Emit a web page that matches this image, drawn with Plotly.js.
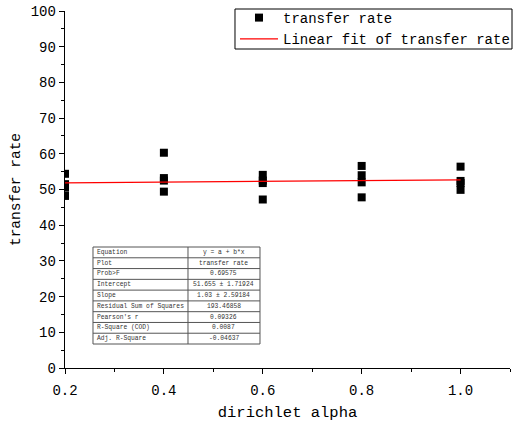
<!DOCTYPE html>
<html>
<head>
<meta charset="utf-8">
<script src="https://cdn.plot.ly/plotly-3.0.1.min.js"></script>
<style>html,body{margin:0;padding:0;background:#fff;}#chart{width:513px;height:425px;}</style>
</head>
<body>
<div id="chart"></div>
<script>
// Data
const alphaX = [0.2,0.2,0.2,0.2, 0.4,0.4,0.4,0.4, 0.6,0.6,0.6,0.6, 0.8,0.8,0.8,0.8, 1.0,1.0,1.0,1.0];
const transferRate = [54.4,51.5,50.5,48.2, 60.3,53.2,52.5,49.4, 54.1,52.5,51.8,47.2, 56.6,54.0,52.0,47.8, 56.4,52.4,51.8,49.9];
const fitIntercept = 51.655;
const fitSlope = 1.03;
const fitX = [0.2, 1.0];
const tableLabels = ["Equation","Plot","Prob>F","Intercept","Slope","Residual Sum of Squares","Pearson's r","R-Square (COD)","Adj. R-Square"];
const tableValues = ["y = a + b*x","transfer rate","0.69575","51.655 \u00b1 1.71924","1.03 \u00b1 2.59184","193.46858","0.09326","0.0087","-0.04637"];
const xTickVals = [0.2,0.4,0.6,0.8,1.0];
const xTickText = ["0.2","0.4","0.6","0.8","1.0"];

const fitY = fitX.map(x => fitIntercept + fitSlope * x);
const mono = "Liberation Mono, DejaVu Sans Mono, monospace";

// inset table layout (paper coordinates)
const tX0 = 0.0629, tXm = 0.2764, tX1 = 0.4382, tTop = 0.3389, tBot = 0.0672;
const rowH = (tTop - tBot) / tableLabels.length;
const tLine = {color: '#555', width: 1};
const shapes = [
  {type: 'rect', xref: 'paper', yref: 'paper', x0: tX0, x1: tX1, y0: tBot, y1: tTop, line: tLine, fillcolor: '#fff', layer: 'above'},
  {type: 'line', xref: 'paper', yref: 'paper', x0: tXm, x1: tXm, y0: tBot, y1: tTop, line: tLine, layer: 'above'},
  // legend frame
  {type: 'rect', xref: 'paper', yref: 'paper', x0: 0.382, x1: 1.0045, y0: 1 - (49 - 11) / 357, y1: 1 + 2 / 357, line: {color: '#000', width: 1}, layer: 'above'}
];
const annotations = [];
tableLabels.forEach((lab, i) => {
  const yc = tTop - rowH * (i + 0.5);
  if (i > 0) {
    shapes.push({type: 'line', xref: 'paper', yref: 'paper', x0: tX0, x1: tX1, y0: tTop - rowH * i, y1: tTop - rowH * i, line: tLine, layer: 'above'});
  }
  annotations.push({xref: 'paper', yref: 'paper', x: tX0 + 0.004, y: yc, xanchor: 'left', yanchor: 'middle', text: lab, showarrow: false, font: {family: mono, size: 6.3, color: '#333'}});
  annotations.push({xref: 'paper', yref: 'paper', x: (tXm + tX1) / 2, y: yc, xanchor: 'center', yanchor: 'middle', text: tableValues[i], showarrow: false, font: {family: mono, size: 6.3, color: '#333'}});
});

const traces = [
  {
    type: 'scatter', mode: 'markers', name: 'transfer rate',
    x: alphaX, y: transferRate,
    marker: {symbol: 'square', size: 8, color: '#000'}
  },
  {
    type: 'scatter', mode: 'lines', name: 'Linear fit of transfer rate',
    x: fitX, y: fitY,
    line: {color: '#ff0000', width: 1.2}
  }
];

const layout = {
  width: 513, height: 425,
  margin: {l: 65, r: 3, t: 11, b: 57, autoexpand: false},
  paper_bgcolor: '#fff', plot_bgcolor: '#fff',
  font: {family: mono, color: '#000'},
  showlegend: true,
  legend: {
    x: 0.382, xanchor: 'left', y: 1 + 9 / 357, yanchor: 'top',
    borderwidth: 0, bgcolor: 'rgba(0,0,0,0)',
    font: {family: mono, size: 14, color: '#000'},
    itemwidth: 38
  },
  shapes: shapes,
  annotations: annotations,
  xaxis: {
    range: [0.2, 1.1],
    tickmode: 'array', tickvals: xTickVals, ticktext: xTickText,
    ticks: 'outside', ticklen: 5, tickwidth: 1, tickcolor: '#000',
    ticklabelstandoff: 4,
    minor: {dtick: 0.1, tick0: 0.1, ticks: 'outside', ticklen: 3, tickcolor: '#000'},
    showline: true, linecolor: '#000', linewidth: 1.3,
    showgrid: false, zeroline: false,
    tickfont: {family: mono, size: 14, color: '#000'},
    title: {text: 'dirichlet alpha', font: {family: mono, size: 15.5, color: '#000'}, standoff: 8}
  },
  yaxis: {
    range: [0, 100],
    dtick: 10, tick0: 0,
    ticks: 'outside', ticklen: 5, tickwidth: 1, tickcolor: '#000',
    minor: {dtick: 5, ticks: 'outside', ticklen: 3, tickcolor: '#000'},
    showline: true, linecolor: '#000', linewidth: 1.3,
    showgrid: false, zeroline: false,
    tickfont: {family: mono, size: 14, color: '#000'},
    title: {text: 'transfer rate', font: {family: mono, size: 14.5, color: '#000'}, standoff: 6}
  }
};

Plotly.newPlot('chart', traces, layout, {displayModeBar: false, staticPlot: true});
</script>
</body>
</html>
